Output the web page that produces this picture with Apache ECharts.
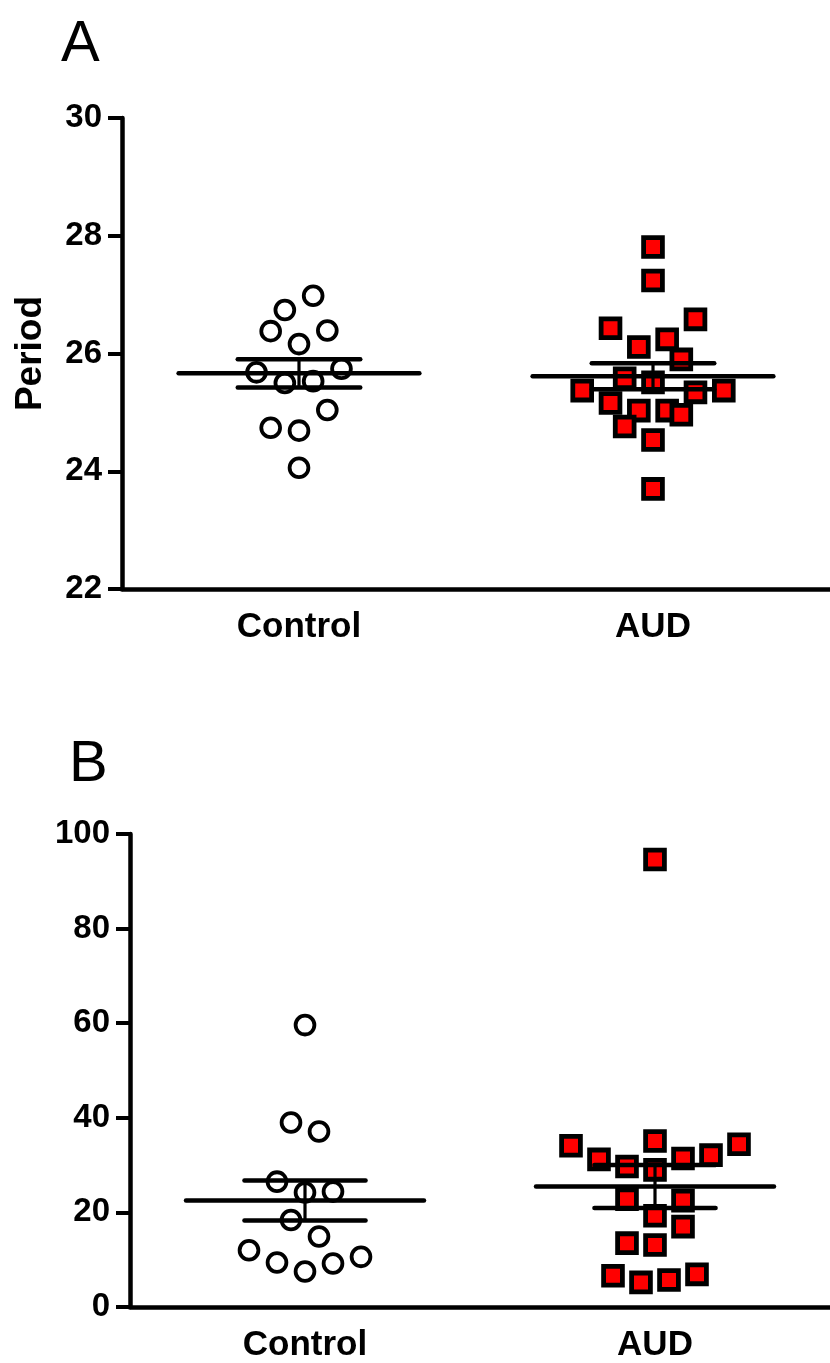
<!DOCTYPE html>
<html>
<head>
<meta charset="utf-8">
<script src="https://cdn.jsdelivr.net/npm/echarts@6/dist/echarts.min.js"></script>
<style>
html, body { margin: 0; padding: 0; background: #fff; }
#chart { width: 830px; height: 1363px; }
</style>
</head>
<body>
<div id="chart"></div>
<script>
const categories = ['Control', 'AUD'];

// panel A - period
const periodControl = [26.98, 26.74, 26.38, 26.39, 26.16, 25.68, 25.74, 25.50, 25.53, 25.04, 24.74, 24.69, 24.06];
const periodControlJitter = [1, -1, -2, 2, 0, -3, 3, -1, 1, 2, -2, 0, 0];
const periodAUD = [27.81, 27.24, 26.58, 26.43, 26.24, 26.11, 25.90, 25.58, 25.51, 25.37, 25.37, 25.34, 25.16, 25.03, 25.03, 24.96, 24.76, 24.53, 23.70];
const periodAUDJitter = [0, 0, 3, -3, 1, -1, 2, -2, 0, -5, 5, 3, -3, -1, 1, 2, -2, 0, 0];
const periodTicks = [22, 24, 26, 28, 30];

// panel B
const bControl = [59.6, 39.0, 37.1, 26.5, 24.2, 24.4, 18.4, 14.9, 12.0, 9.4, 7.5, 9.2, 10.6];
const bControlJitter = [0, -1, 1, -2, 0, 2, -1, 1, -4, -2, 0, 2, 4];
const bAUD = [94.6, 34.1, 35.1, 34.4, 31.2, 32.1, 29.7, 31.4, 29.0, 22.8, 22.5, 19.3, 17.0, 13.5, 13.1, 6.6, 5.2, 5.7, 6.9];
const bAUDJitter = [0, -6, 0, 6, -4, 4, -2, 2, 0, -2, 2, 0, 2, -2, 0, -3, -1, 1, 3];
const bTicks = [0, 20, 40, 60, 80, 100];

const FONT = "'Liberation Sans', Arial, sans-serif";
const STEP = 0.04;      // jitter step, in category units
const MEAN_HW = 0.34;
const ERR_HW = 0.173;

function meanSem(vals) {
    const n = vals.length;
    const m = vals.reduce((a, b) => a + b, 0) / n;
    const sd = Math.sqrt(vals.reduce((a, v) => a + (v - m) * (v - m), 0) / (n - 1));
    return [m, sd / Math.sqrt(n)];
}

function points(vals, jitter, center) {
    return vals.map((v, i) => [center + jitter[i] * STEP, v]);
}

const circleStyle = { color: 'rgba(255,255,255,0)', borderColor: '#000', borderWidth: 3.8, opacity: 1 };
const squareStyle = { color: '#ff0000', borderColor: '#000', borderWidth: 4.8, opacity: 1 };

function scatter(idx, data, symbol, itemStyle) {
    return {
        type: 'scatter', xAxisIndex: idx * 2 + 1, yAxisIndex: idx,
        symbol: symbol, symbolSize: symbol === 'circle' ? 18.8 : 18.8,
        itemStyle: itemStyle, data: data, z: 2, silent: true
    };
}

function summary(idx, groups) {
    return {
        type: 'custom', xAxisIndex: idx * 2 + 1, yAxisIndex: idx, z: 5, silent: true,
        data: groups.map((g, i) => { const ms = meanSem(g); return [i + 0.5, ms[0], ms[1]]; }),
        renderItem: (params, api) => {
            const c = api.value(0), m = api.value(1), s = api.value(2);
            const seg = (x1, y1, x2, y2, w) => {
                const a = api.coord([x1, y1]), b = api.coord([x2, y2]);
                return {
                    type: 'line',
                    shape: { x1: a[0], y1: a[1], x2: b[0], y2: b[1] },
                    style: { stroke: '#000', lineWidth: w, lineCap: 'round' }
                };
            };
            return {
                type: 'group',
                children: [
                    seg(c, m - s, c, m + s, 3.2),
                    seg(c - MEAN_HW, m, c + MEAN_HW, m, 4.5),
                    seg(c - ERR_HW, m + s, c + ERR_HW, m + s, 4.5),
                    seg(c - ERR_HW, m - s, c + ERR_HW, m - s, 4.5)
                ]
            };
        }
    };
}

function catAxis(gridIndex) {
    return {
        gridIndex: gridIndex, type: 'category', data: categories,
        axisLine: { lineStyle: { color: '#000', width: 4.5 } },
        axisTick: { alignWithLabel: true, length: 12, lineStyle: { color: '#000', width: 4 } },
        axisLabel: { color: '#000', fontFamily: FONT, fontWeight: 'bold', fontSize: 35, margin: 21 }
    };
}

function valAxisX(gridIndex) {
    return { gridIndex: gridIndex, type: 'value', min: 0, max: 2, show: false };
}

function valAxisY(gridIndex, ticks, name) {
    return {
        gridIndex: gridIndex, type: 'value',
        min: ticks[0], max: ticks[ticks.length - 1], interval: ticks[1] - ticks[0],
        name: name, nameLocation: 'middle', nameGap: 73,
        nameTextStyle: { color: '#000', fontFamily: FONT, fontWeight: 'bold', fontSize: 37 },
        axisLine: { show: true, lineStyle: { color: '#000', width: 4.5 } },
        axisTick: { show: true, length: 14, lineStyle: { color: '#000', width: 4 } },
        splitLine: { show: false },
        axisLabel: { color: '#000', fontFamily: FONT, fontWeight: 'bold', fontSize: 33, margin: 20 }
    };
}

const myChart = echarts.init(document.getElementById('chart'));
myChart.setOption({
    animation: false,
    backgroundColor: '#fff',
    title: [
        { text: 'A', left: 61, top: 16, padding: 0, textStyle: { fontFamily: FONT, fontWeight: 'normal', fontSize: 58, color: '#000' } },
        { text: 'B', left: 69, top: 736, padding: 0, textStyle: { fontFamily: FONT, fontWeight: 'normal', fontSize: 58, color: '#000' } }
    ],
    grid: [
        { left: 122, top: 118, width: 708, height: 471 },
        { left: 130, top: 834, width: 708, height: 473 }
    ],
    xAxis: [catAxis(0), valAxisX(0), catAxis(1), valAxisX(1)],
    yAxis: [valAxisY(0, periodTicks, 'Period'), valAxisY(1, bTicks, '')],
    series: [
        scatter(0, points(periodControl, periodControlJitter, 0.5), 'circle', circleStyle),
        scatter(0, points(periodAUD, periodAUDJitter, 1.5), 'rect', squareStyle),
        summary(0, [periodControl, periodAUD]),
        scatter(1, points(bControl, bControlJitter, 0.5), 'circle', circleStyle),
        scatter(1, points(bAUD, bAUDJitter, 1.5), 'rect', squareStyle),
        summary(1, [bControl, bAUD])
    ]
});
</script>
</body>
</html>
